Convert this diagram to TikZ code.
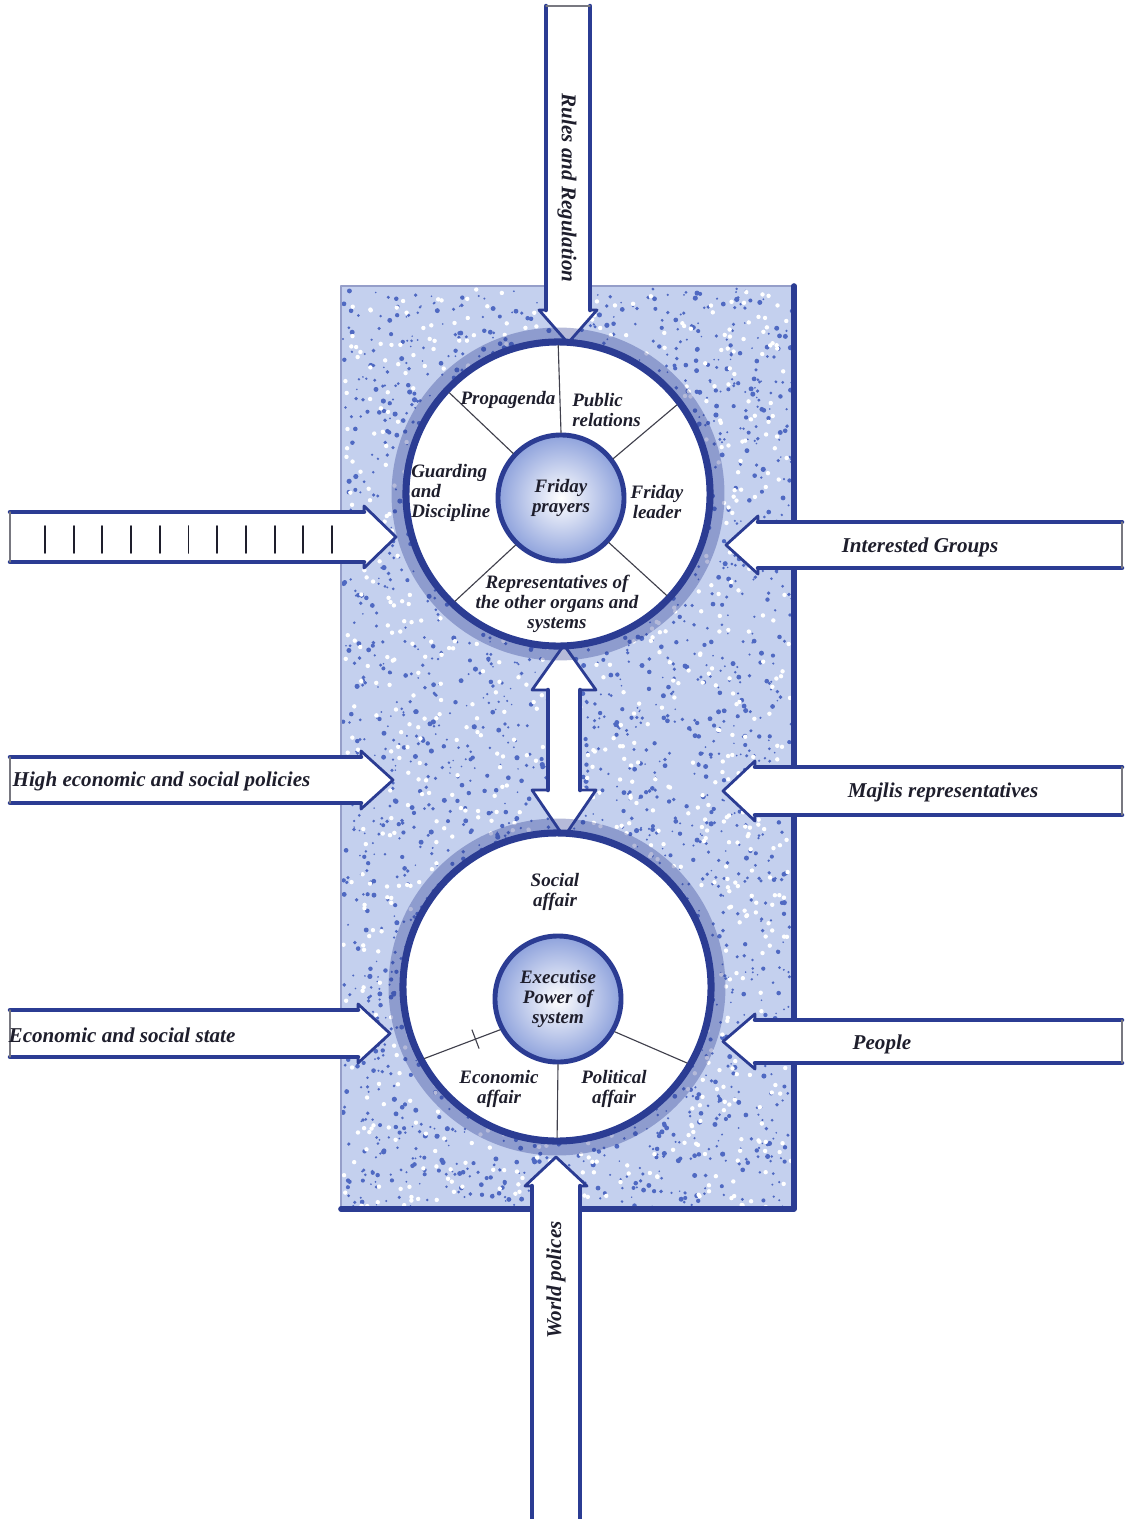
\documentclass[tikz,border=0pt]{standalone}
\usepackage{fontspec}
\setmainfont{Liberation Serif}
\usetikzlibrary{calc}
\definecolor{ink}{HTML}{1E1E2C}
\definecolor{navy}{HTML}{2B3C93}
\definecolor{pale}{HTML}{C4D0EE}
\definecolor{speck}{HTML}{4F69C2}
\definecolor{ringblue}{HTML}{8EA2DC}

\begin{document}
\begin{tikzpicture}[
  x=.025cm,y=-.025cm,
  line cap=round,line join=round,
  lbl/.style={font=\fontsize{15}{17}\selectfont\bfseries\itshape, text=ink, inner sep=1pt},
  seg/.style={font=\fontsize{13.5}{14}\selectfont\bfseries\itshape, text=ink, align=center, inner sep=0pt},
  edge/.style={draw=navy, line width=3.2pt},
  headline/.style={draw=navy, line width=2pt},
  endline/.style={draw=ink!60, line width=.8pt},
  ring/.style={circle, draw=navy, line width=5pt, fill=white, inner sep=0pt},
  halo/.style={circle, draw=navy, opacity=.35, line width=12pt, inner sep=0pt},
  core/.style={seg, circle, draw=navy, line width=3.5pt, shade, inner color=white, outer color=ringblue, minimum size=3.15cm},
  spoke/.style={draw=ink!85, line width=.8pt}
]
\useasboundingbox (0,0) rectangle (1132,1519);

% speckled panel behind the two systems
\fill[pale] (341,286) rectangle (794,1209);
\pgfmathsetseed{1519}
\foreach \i in {1,...,2600}{
  \pgfmathsetmacro{\dx}{343+449*rnd}
  \pgfmathsetmacro{\dy}{288+919*rnd}
  \pgfmathsetmacro{\dr}{.8+1.8*rnd}
  \fill[speck] (\dx,\dy) circle[radius=\dr];
}
\foreach \i in {1,...,1100}{
  \pgfmathsetmacro{\dx}{343+449*rnd}
  \pgfmathsetmacro{\dy}{288+919*rnd}
  \fill[white] (\dx,\dy) circle[radius=2.2];
}
\draw[navy!50,line width=1pt] (341,1209) -- (341,286) -- (794,286);
\draw[navy,line width=4pt] (794,286) -- (794,1209) -- (341,1209);

% inputs from the left
\foreach \yt/\yb/\tip in {512/562/396, 757/803/393, 1010/1057/390}{
  \fill[white] (10,\yt) -- (\tip-32,\yt) -- (\tip-32,\yt-6) -- (\tip,{(\yt+\yb)/2}) -- (\tip-32,\yb+6) -- (\tip-32,\yb) -- (10,\yb) -- cycle;
  \draw[edge] (10,\yt) -- (\tip-32,\yt) (10,\yb) -- (\tip-32,\yb);
  \draw[headline] (\tip-32,\yt) -- (\tip-32,\yt-6) -- (\tip,{(\yt+\yb)/2}) -- (\tip-32,\yb+6) -- (\tip-32,\yb);
  \draw[endline] (10,\yt) -- (10,\yb);
}
\foreach \i in {0,...,10}
  \draw[ink,line width=1.3pt] (45+28.7*\i,526) -- (45+28.7*\i,553);

% inputs from the right
\foreach \yt/\yb/\tip in {522/568/726, 767/815/723, 1020/1063/723}{
  \fill[white] (1122,\yt) -- (\tip+32,\yt) -- (\tip+32,\yt-6) -- (\tip,{(\yt+\yb)/2}) -- (\tip+32,\yb+6) -- (\tip+32,\yb) -- (1122,\yb) -- cycle;
  \draw[edge] (1122,\yt) -- (\tip+32,\yt) (1122,\yb) -- (\tip+32,\yb);
  \draw[headline] (\tip+32,\yt) -- (\tip+32,\yt-6) -- (\tip,{(\yt+\yb)/2}) -- (\tip+32,\yb+6) -- (\tip+32,\yb);
  \draw[endline] (1122,\yt) -- (1122,\yb);
}

% rules from above
\fill[white] (546,6) -- (590,6) -- (590,310) -- (597,310) -- (568,343) -- (539,310) -- (546,310) -- cycle;
\draw[edge] (546,6) -- (546,310) (590,6) -- (590,310);
\draw[headline] (546,310) -- (539,310) -- (568,343) -- (597,310) -- (590,310);
\draw[endline] (546,6) -- (590,6);

% world polices from below
\fill[white] (532,1519) -- (532,1186) -- (525,1186) -- (556,1157) -- (587,1186) -- (580,1186) -- (580,1519) -- cycle;
\draw[edge] (532,1519) -- (532,1186) (580,1519) -- (580,1186);
\draw[headline] (532,1186) -- (525,1186) -- (556,1157) -- (587,1186) -- (580,1186);

% two-way link between the systems
\fill[white] (564,645) -- (596,690) -- (580,690) -- (580,790) -- (596,790) -- (564,837) -- (532,790) -- (548,790) -- (548,690) -- (532,690) -- cycle;
\draw[edge] (548,690) -- (548,790) (580,690) -- (580,790);
\draw[headline] (548,690) -- (532,690) -- (564,645) -- (596,690) -- (580,690);
\draw[headline] (548,790) -- (532,790) -- (564,837) -- (596,790) -- (580,790);

% Friday prayers system
\node[halo, minimum size=7.9cm] at (558,494) {};
\node[ring, minimum size=7.6cm] (ringA) at (558,494) {};
\node[core] (fridayA) at (561,498) {Friday\\prayers};
\foreach \a in {90,137,37,-43,-134}
  \draw[spoke, shorten >=5pt] (fridayA.\a) -- (ringA.\a);

% executive system
\node[halo, minimum size=8cm] at (557,987) {};
\node[ring, minimum size=7.7cm] (ringB) at (557,987) {};
\node[core] (execB) at (558,999) {Executise\\Power of\\system};
\foreach \a in {-90,-152,-30}
  \draw[spoke, shorten >=5pt] (execB.\a) -- (ringB.\a);
\coordinate (tk) at ($(execB.-152)!.3!(ringB.-152)$);
\draw[spoke] ($(tk)!7pt!90:(ringB.-152)$) -- ($(tk)!7pt!-90:(ringB.-152)$);

% sector labels
\node[seg] (propa) at (508,400) {Propagenda};
\node[seg, align=left, anchor=west] (pubrel) at (572,410) {Public\\relations};
\node[seg, align=left, anchor=west] (guard) at (411,493) {Guarding\\and\\Discipline};
\node[seg] (leader) at (657,502) {Friday\\leader};
\node[seg] (reps) at (557,604) {Representatives of\\the other organs and\\systems};
\node[seg] (social) at (555,892) {Social\\affair};
\node[seg] (econ) at (499,1089) {Economic\\affair};
\node[seg] (politic) at (614,1089) {Political\\affair};

% arrow labels
\node[lbl, rotate=-90] (rules) at (567,188) {Rules and Regulation};
\node[lbl, rotate=90] (world) at (556,1280) {World polices};
\node[lbl, anchor=west] (highpol) at (11,781) {High economic and social policies};
\node[lbl, anchor=west] (econstate) at (7,1035) {Economic and social state};
\node[lbl] (interested) at (920,547) {Interested Groups};
\node[lbl] (majlis) at (943,792) {Majlis representatives};
\node[lbl] (people) at (882,1044) {People};

\end{tikzpicture}
\end{document}
